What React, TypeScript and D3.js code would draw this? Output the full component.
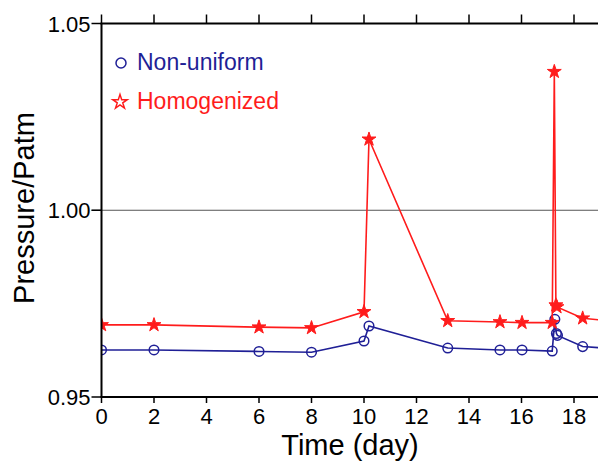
import React from "react";
import * as d3 from "d3";

const days = [0, 2, 6, 8, 10.0, 10.19, 13.19, 15.18, 16.02, 17.17, 17.25, 17.31, 17.35, 18.33, 20];
const homogenized = [0.9693, 0.9693, 0.9687, 0.9685, 0.9728, 1.019, 0.9704, 0.9701, 0.9699, 0.9699, 1.0371, 0.9746, 0.9741, 0.9711, 0.9699];
const daysNU = [0, 2, 6, 8, 10.0, 10.19, 13.19, 15.18, 16.02, 17.17, 17.27, 17.33, 17.37, 18.33, 20];
const nonUniform = [0.9626, 0.9626, 0.9622, 0.962, 0.965, 0.969, 0.9631, 0.9626, 0.9626, 0.9623, 0.9708, 0.967, 0.9665, 0.9635, 0.9627];
const xTicks = [0, 2, 4, 6, 8, 10, 12, 14, 16, 18];
const yTicks = [0.95, 1.0, 1.05];
const legendLabels = ["Non-uniform", "Homogenized"];

const W = 598;
const H = 463;
const BLUE = "#1f1f96";
const RED = "#ff1c1c";
const FONT = "'Liberation Sans', Arial, Helvetica, sans-serif";

export default function App() {
  const x = d3.scaleLinear().domain([0, 20]).range([101.5, 101.5 + 20 * 26.25]);
  const y = d3.scaleLinear().domain([0.95, 1.05]).range([397, 23.5]);
  const left = x(0);
  const right = x(20);
  const top = y(1.05);
  const bottom = y(0.95);

  const redPts: [number, number][] = days.map((d, i) => [x(d), y(homogenized[i])]);
  const bluePts: [number, number][] = daysNU.map((d, i) => [x(d), y(nonUniform[i])]);
  const line = d3.line();
  const star = d3.symbol().type(d3.symbolStar).size(60)() as string;
  const starLegend = d3.symbol().type(d3.symbolStar).size(65)() as string;

  return (
    <div style={{ position: "absolute", left: 0, top: 0 }}>
      <svg width={W} height={H} style={{ display: "block", background: "#fff" }} fontFamily={FONT}>
        <defs>
          <clipPath id="plot">
            <rect x={left} y={top - 10} width={right - left} height={bottom - top + 10} />
          </clipPath>
        </defs>
        <line x1={left - 10} x2={right} y1={y(1.0)} y2={y(1.0)} stroke="#555" strokeWidth={1} />

        <g clipPath="url(#plot)">
          <path d={line(bluePts) as string} fill="none" stroke={BLUE} strokeWidth={1.6} />
          {bluePts.map((p, i) => (
            <circle key={"b" + i} cx={p[0]} cy={p[1]} r={4.8} fill="none" stroke={BLUE} strokeWidth={1.5} />
          ))}
          <path d={line(redPts) as string} fill="none" stroke={RED} strokeWidth={1.6} />
          {redPts.map((p, i) => (
            <path key={"r" + i} d={star} transform={`translate(${p[0]},${p[1]})`} fill={RED} stroke={RED} strokeWidth={1} />
          ))}
        </g>

        <line x1={left} x2={left} y1={top} y2={bottom} stroke="#000" strokeWidth={2} />
        <line x1={left - 1} x2={right} y1={top} y2={top} stroke="#000" strokeWidth={2} />
        <line x1={left - 1} x2={right} y1={bottom} y2={bottom} stroke="#000" strokeWidth={2} />

        {xTicks.map((t) => (
          <g key={"xt" + t}>
            <line x1={x(t)} x2={x(t)} y1={bottom} y2={bottom + 6} stroke="#000" strokeWidth={1.5} />
            <line x1={x(t)} x2={x(t)} y1={top} y2={top - 9} stroke="#000" strokeWidth={1.5} />
            <text x={x(t)} y={bottom + 27} textAnchor="middle" fontSize={22} fill="#000">
              {t}
            </text>
          </g>
        ))}

        {yTicks.map((t) => (
          <g key={"yt" + t}>
            <line x1={left - 10} x2={left} y1={y(t)} y2={y(t)} stroke="#000" strokeWidth={1.5} />
            <text x={left - 11} y={y(t) + 8} textAnchor="end" fontSize={22} fill="#000">
              {t.toFixed(2)}
            </text>
          </g>
        ))}

        <text x={350} y={455} textAnchor="middle" fontSize={29} fill="#000">
          Time (day)
        </text>
        <text transform="translate(34,208) rotate(-90)" textAnchor="middle" fontSize={29} fill="#000">
          Pressure/Patm
        </text>

        <circle cx={121} cy={63} r={5} fill="none" stroke={BLUE} strokeWidth={1.5} />
        <text x={137} y={70} fontSize={23} fill={BLUE}>
          {legendLabels[0]}
        </text>
        <path d={starLegend} transform="translate(120,102)" fill="none" stroke={RED} strokeWidth={1.5} />
        <text x={137} y={109} fontSize={23} fill={RED}>
          {legendLabels[1]}
        </text>
      </svg>
    </div>
  );
}
